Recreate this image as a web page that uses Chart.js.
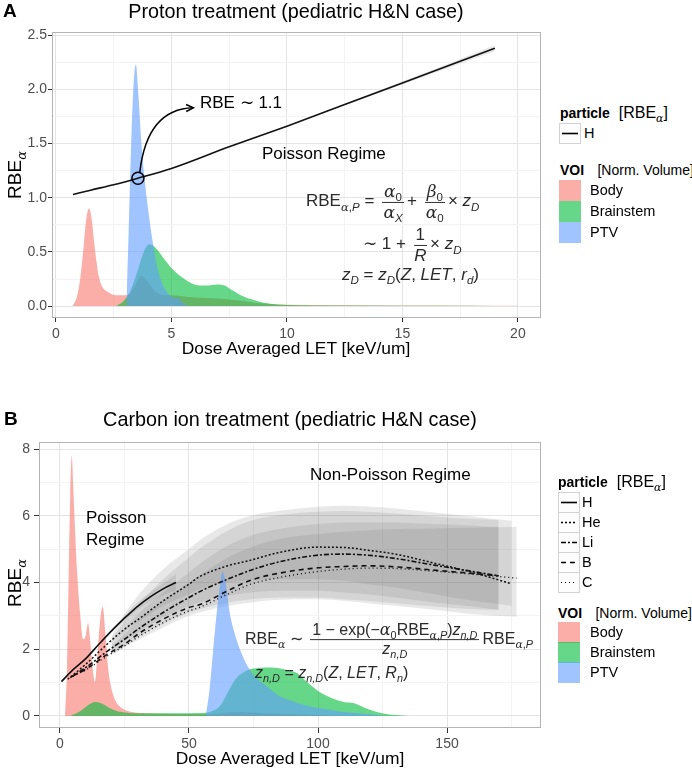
<!DOCTYPE html>
<html>
<head>
<meta charset="utf-8">
<script src="https://cdn.jsdelivr.net/npm/chart.js@4.4.1/dist/chart.umd.min.js"></script>
<style>
body { margin:0; width:692px; height:771px; position:relative; background:#fff; overflow:hidden;
       font-family:"Liberation Sans", Arial, sans-serif; color:#000; }
canvas { position:absolute; left:0; }
.t { position:absolute; white-space:nowrap; transform:translateY(-50%); }
.c { position:absolute; white-space:nowrap; transform:translate(-50%,-50%); }
.yt { position:absolute; white-space:nowrap; transform:translate(-50%,-50%) rotate(-90deg); font-size:19px; }
.g { font-family:"DejaVu Serif", serif; font-style:italic; }
sub { font-size:68%; vertical-align:-0.35em; line-height:0; }
.fr { display:inline-flex; flex-direction:column; align-items:center; vertical-align:middle; margin:0 3px; line-height:1.15; }
.fr > span:first-child { border-bottom:1px solid #333; padding:0 2px; }
.eq { color:#2a2a2a; font-size:16px; }
.eqA { color:#2a2a2a; font-size:17px; }
.key { position:absolute; width:22px; height:21px; box-sizing:border-box; border:1px solid #d2d2d2; background:#fdfdfd; }
.sw { position:absolute; width:22px; height:21px; }
.lab { position:absolute; white-space:nowrap; transform:translateY(-50%); font-size:14.5px; }
</style>
</head>
<body>
<canvas id="chartA" width="545" height="362" style="top:0"></canvas>
<canvas id="chartB" width="545" height="390" style="top:380px"></canvas>

<!-- panel A text -->
<div class="t" style="left:3px;top:11px;font-weight:bold;font-size:19px">A</div>
<div class="c" style="left:296px;top:11px;font-size:19.8px">Proton treatment (pediatric H&amp;N case)</div>
<div class="yt" style="left:15px;top:175px">RBE<sub class="g">α</sub></div>
<div class="c" style="left:296px;top:348px;font-size:17.4px">Dose Averaged LET [keV/um]</div>
<div class="t" style="left:200px;top:102px;font-size:17px">RBE ∼ 1.1</div>
<div class="t" style="left:262px;top:154px;font-size:17px">Poisson Regime</div>
<div class="t eqA" style="left:306px;top:202px">RBE<sub><span class="g">α</span>,<i>P</i></sub> =
  <span class="fr"><span><span class="g">α</span><sub>0</sub></span><span><span class="g">α</span><sub><i>X</i></sub></span></span>+
  <span class="fr"><span><span class="g">β</span><sub>0</sub></span><span><span class="g">α</span><sub>0</sub></span></span>× <i>z</i><sub><i>D</i></sub></div>
<div class="t eqA" style="left:363px;top:245px">∼ 1 +
  <span class="fr"><span>1</span><span><i>R</i></span></span>× <i>z</i><sub><i>D</i></sub></div>
<div class="t eqA" style="left:342px;top:275px"><i>z</i><sub><i>D</i></sub> = <i>z</i><sub><i>D</i></sub>(<i>Z</i>, <i>LET</i>, <i>r</i><sub><i>d</i></sub>)</div>

<!-- panel A legend -->
<div class="t" style="left:560px;top:113px"><b style="font-size:14px">particle</b>&nbsp; <span style="font-size:16px">[RBE<sub class="g">α</sub>]</span></div>
<div class="key" style="left:559px;top:123px"><svg width="20" height="19"><line x1="2" y1="9.5" x2="18" y2="9.5" stroke="#000" stroke-width="1.6"/></svg></div>
<div class="lab" style="left:584px;top:133px">H</div>
<div class="t" style="left:560px;top:170px"><b style="font-size:14px">VOI</b>&nbsp;&nbsp; <span style="font-size:14px">[Norm. Volume]</span></div>
<div class="sw" style="left:559px;top:180px;background:rgba(248,118,109,0.6)"></div>
<div class="sw" style="left:559px;top:201px;background:rgba(0,186,56,0.6)"></div>
<div class="sw" style="left:559px;top:222px;background:rgba(97,156,255,0.6)"></div>
<div class="lab" style="left:590px;top:190px">Body</div>
<div class="lab" style="left:590px;top:211px">Brainstem</div>
<div class="lab" style="left:590px;top:232px">PTV</div>

<!-- panel B text -->
<div class="t" style="left:4px;top:419px;font-weight:bold;font-size:19px">B</div>
<div class="c" style="left:290px;top:419px;font-size:19.8px">Carbon ion treatment (pediatric H&amp;N case)</div>
<div class="yt" style="left:15px;top:583px">RBE<sub class="g">α</sub></div>
<div class="c" style="left:290px;top:758px;font-size:17.4px">Dose Averaged LET [keV/um]</div>
<div class="t" style="left:86px;top:518px;font-size:17px">Poisson</div>
<div class="t" style="left:86px;top:540px;font-size:17px">Regime</div>
<div class="t" style="left:310px;top:475px;font-size:17px">Non-Poisson Regime</div>
<div class="t eq" style="left:245px;top:640px">RBE<sub class="g">α</sub> ∼
  <span class="fr"><span>1 − exp(−<span class="g">α</span><sub>0</sub>RBE<sub><span class="g">α</span>,<i>P</i></sub>)<i>z</i><sub><i>n,D</i></sub></span><span><i>z</i><sub><i>n,D</i></sub></span></span>RBE<sub><span class="g">α</span>,<i>P</i></sub></div>
<div class="t eq" style="left:255px;top:673px"><i>z</i><sub><i>n,D</i></sub> = <i>z</i><sub><i>n,D</i></sub>(<i>Z</i>, <i>LET</i>, <i>R</i><sub><i>n</i></sub>)</div>

<!-- panel B legend -->
<div class="t" style="left:558px;top:482px"><b style="font-size:14px">particle</b>&nbsp; <span style="font-size:16px">[RBE<sub class="g">α</sub>]</span></div>
<div class="key" style="left:558px;top:492px"><svg width="20" height="19"><line x1="2" y1="9.5" x2="18" y2="9.5" stroke="#000" stroke-width="1.6"/></svg></div>
<div class="key" style="left:558px;top:512px"><svg width="20" height="19"><line x1="2" y1="9.5" x2="18" y2="9.5" stroke="#000" stroke-width="1.4" stroke-dasharray="2 2"/></svg></div>
<div class="key" style="left:558px;top:532px"><svg width="20" height="19"><line x1="2" y1="9.5" x2="18" y2="9.5" stroke="#000" stroke-width="1.6" stroke-dasharray="5 2 2 2"/></svg></div>
<div class="key" style="left:558px;top:552px"><svg width="20" height="19"><line x1="2" y1="9.5" x2="18" y2="9.5" stroke="#000" stroke-width="1.6" stroke-dasharray="5 4"/></svg></div>
<div class="key" style="left:558px;top:572px"><svg width="20" height="19"><line x1="2" y1="9.5" x2="18" y2="9.5" stroke="#000" stroke-width="1.2" stroke-dasharray="1 3"/></svg></div>
<div class="lab" style="left:582px;top:502px">H</div>
<div class="lab" style="left:582px;top:522px">He</div>
<div class="lab" style="left:582px;top:542px">Li</div>
<div class="lab" style="left:582px;top:562px">B</div>
<div class="lab" style="left:582px;top:582px">C</div>
<div class="t" style="left:558px;top:613px"><b style="font-size:14px">VOI</b>&nbsp;&nbsp; <span style="font-size:14px">[Norm. Volume]</span></div>
<div class="sw" style="left:558px;top:622px;background:rgba(248,118,109,0.6)"></div>
<div class="sw" style="left:558px;top:642px;background:rgba(0,186,56,0.6)"></div>
<div class="sw" style="left:558px;top:662px;background:rgba(97,156,255,0.6)"></div>
<div class="lab" style="left:590px;top:632px">Body</div>
<div class="lab" style="left:590px;top:652px">Brainstem</div>
<div class="lab" style="left:590px;top:672px">PTV</div>

<script>
//panel A data (proton)
const letA_H = [0.74, 1.5, 2.5, 3.55, 5, 7.5, 10, 12.5, 15, 17.5, 19.0];
const rbeA_H = [1.03, 1.07, 1.12, 1.18, 1.27, 1.47, 1.66, 1.86, 2.06, 2.26, 2.38];
const letA_band = [12.5, 15, 17.5, 19.0];
const rbeA_bandLo = [1.852, 2.045, 2.24, 2.35];
const rbeA_bandHi = [1.868, 2.075, 2.28, 2.41];

const letA_body = [0.72, 0.9, 1.05, 1.2, 1.3, 1.43, 1.55, 1.65, 1.75, 1.85, 2.0, 2.25, 2.6, 3.0, 3.3, 3.5, 3.7, 3.9, 4.2, 4.5, 5.0, 6.0, 7.0, 8.0, 8.6, 9.3, 10, 12, 15, 18, 20];
const volA_body = [0, 0.08, 0.25, 0.55, 0.78, 0.9, 0.8, 0.6, 0.42, 0.28, 0.18, 0.13, 0.1, 0.1, 0.14, 0.22, 0.28, 0.24, 0.16, 0.11, 0.1, 0.08, 0.07, 0.05, 0.03, 0.02, 0.012, 0.008, 0.005, 0.004, 0.003];
const letA_brain = [2.6, 2.9, 3.2, 3.5, 3.8, 4.05, 4.3, 4.7, 5.1, 5.5, 6.0, 6.5, 7.0, 7.3, 7.6, 8.0, 8.5, 9.0, 9.6, 10.5, 12, 15, 18, 20];
const volA_brain = [0, 0.04, 0.13, 0.3, 0.5, 0.57, 0.54, 0.43, 0.33, 0.26, 0.2, 0.19, 0.2, 0.19, 0.15, 0.1, 0.06, 0.03, 0.015, 0.008, 0.005, 0.004, 0.003, 0];
const letA_ptv = [3.05, 3.15, 3.25, 3.35, 3.46, 3.57, 3.7, 3.85, 4.0, 4.2, 4.4, 4.6, 4.8, 5.0, 5.2, 5.3, 5.4, 5.55, 5.75];
const volA_ptv = [0, 0.7, 1.45, 2.0, 2.23, 1.95, 1.5, 1.15, 0.88, 0.58, 0.35, 0.21, 0.13, 0.09, 0.07, 0.08, 0.05, 0.02, 0];

//panel A annotation anchors (data units)
const noteA = { circleLet: 3.55, circleRbe: 1.18, fromLet: 3.63, fromRbe: 1.235,
                bendLet: 3.95, bendRbe: 1.82, toLet: 5.95, toRbe: 1.83 };

//panel B data (carbon)
const letB_H = [0.6, 5, 10, 15, 20, 25, 30, 35, 40, 45];
const rbeB_H = [1.03, 1.38, 1.72, 2.14, 2.55, 2.93, 3.28, 3.57, 3.81, 4.0];
const letB_Hband = [20, 30, 40, 45];
const rbeB_HbandLo = [2.5, 3.18, 3.62, 3.75];
const rbeB_HbandHi = [2.6, 3.4, 3.98, 4.25];

const letB_He = [3, 10, 18, 25, 31, 40, 50, 54, 65, 74, 85, 100, 110, 119, 130, 145, 160, 175];
const rbeB_He = [1.1, 1.55, 2.13, 2.6, 2.93, 3.45, 3.95, 4.17, 4.5, 4.67, 4.9, 5.06, 5.05, 4.97, 4.85, 4.58, 4.3, 3.96];
const letB_Li = [4, 10, 18, 25, 31, 40, 50, 54, 65, 74, 85, 100, 110, 119, 130, 145, 160, 170];
const rbeB_Li = [1.15, 1.45, 1.92, 2.3, 2.64, 3.1, 3.55, 3.72, 4.1, 4.37, 4.62, 4.82, 4.85, 4.82, 4.72, 4.52, 4.33, 4.2];
const letB_B = [5, 10, 18, 25, 31, 40, 50, 54, 65, 74, 85, 100, 110, 119, 130, 145, 160, 170];
const rbeB_B = [1.2, 1.4, 1.83, 2.15, 2.49, 2.9, 3.25, 3.33, 3.75, 4.07, 4.28, 4.44, 4.48, 4.5, 4.47, 4.37, 4.27, 4.2];
const letB_C = [5, 10, 18, 25, 31, 40, 50, 54, 65, 74, 85, 100, 110, 119, 130, 145, 160, 177];
const rbeB_C = [1.2, 1.38, 1.78, 2.1, 2.4, 2.8, 3.15, 3.25, 3.65, 3.95, 4.15, 4.33, 4.4, 4.43, 4.42, 4.34, 4.25, 4.13];

//uncertainty ribbons
const letB_band = [20, 25, 31, 40, 50, 54, 65, 74, 85, 100, 110, 119, 130, 145, 160, 170];
const letB_bandHe = [20, 25, 31, 40, 50, 54, 65, 74, 85, 100, 110, 119, 130, 145, 160, 175];
const letB_bandC = [20, 25, 31, 40, 50, 54, 65, 74, 85, 100, 110, 119, 130, 145, 160, 177];
const rbeB_HeHi = [2.4, 3.05, 3.68, 4.4, 5.0, 5.25, 5.75, 6.0, 6.15, 6.27, 6.3, 6.28, 6.22, 6.1, 5.98, 5.85];
const rbeB_HeLo = [2.2, 2.55, 2.85, 3.3, 3.65, 3.8, 4.0, 4.05, 4.1, 4.1, 4.05, 3.95, 3.85, 3.65, 3.45, 3.3];
const rbeB_LiHi = [2.3, 2.85, 3.4, 4.1, 4.75, 5.0, 5.55, 5.85, 6.02, 6.12, 6.14, 6.12, 6.07, 5.98, 5.9, 5.87];
const rbeB_LiLo = [1.98, 2.25, 2.55, 2.95, 3.3, 3.4, 3.6, 3.7, 3.75, 3.75, 3.7, 3.65, 3.55, 3.4, 3.28, 3.18];
const rbeB_BHi = [2.15, 2.6, 3.1, 3.7, 4.3, 4.55, 5.1, 5.4, 5.6, 5.75, 5.8, 5.8, 5.8, 5.75, 5.7, 5.66];
const rbeB_BLo = [1.88, 2.1, 2.4, 2.75, 3.1, 3.2, 3.4, 3.5, 3.55, 3.55, 3.5, 3.45, 3.38, 3.28, 3.2, 3.18];
const rbeB_CHi = [2.05, 2.45, 2.9, 3.45, 4.0, 4.2, 4.75, 5.05, 5.3, 5.45, 5.52, 5.56, 5.6, 5.62, 5.64, 5.66];
const rbeB_CLo = [1.83, 2.05, 2.3, 2.65, 3.0, 3.1, 3.3, 3.4, 3.48, 3.5, 3.45, 3.38, 3.3, 3.18, 3.05, 2.97];

const letB_body = [2.0, 2.8, 3.4, 4.0, 4.6, 5.2, 5.8, 6.6, 7.8, 9.0, 9.8, 10.9, 11.8, 12.6, 13.6, 14.5, 15.5, 16.6, 17.6, 18.6, 19.6, 21, 23, 26, 30, 40, 50, 57, 60, 64, 70, 80, 90, 100, 110];
const volB_body = [0, 1.5, 4.2, 6.6, 7.8, 6.8, 5.7, 4.4, 3.1, 2.3, 2.35, 2.78, 2.2, 1.5, 1.02, 1.8, 2.8, 3.27, 2.5, 1.5, 0.95, 0.55, 0.3, 0.16, 0.1, 0.07, 0.06, 0.05, 0.06, 0.1, 0.12, 0.08, 0.05, 0.03, 0];
const letB_brain = [4, 8, 11, 13.6, 16, 19, 22, 26, 35, 45, 55, 58, 62, 65, 68, 72, 76, 82, 88, 92, 96, 100, 105, 110, 114, 118, 124, 130, 135];
const volB_brain = [0, 0.15, 0.33, 0.42, 0.38, 0.25, 0.15, 0.1, 0.08, 0.08, 0.09, 0.12, 0.3, 0.7, 1.1, 1.35, 1.43, 1.45, 1.38, 1.28, 1.0, 0.75, 0.55, 0.42, 0.38, 0.25, 0.1, 0.03, 0];
const letB_ptv = [56.5, 58, 60, 62, 63, 64, 66, 68, 70, 73, 76, 80, 85, 90, 95, 100, 105, 110, 115, 120, 125];
const volB_ptv = [0, 0.8, 2.5, 3.9, 4.32, 4.1, 3.0, 2.4, 1.95, 1.45, 1.15, 0.9, 0.6, 0.45, 0.32, 0.24, 0.18, 0.12, 0.09, 0.05, 0];

//colours
const colBody = 'rgba(248,118,109,0.6)';
const colBrain = 'rgba(0,186,56,0.6)';
const colPtv = 'rgba(97,156,255,0.6)';
const colBand = 'rgba(110,110,110,0.16)';
const clear = 'rgba(0,0,0,0)';

function pts(xs, ys) {
    return xs.map((x, i) => ({x: x, y: ys[i]}));
}
function lineSet(xs, ys, dash, width) {
    return {data: pts(xs, ys), borderColor: '#111', borderWidth: width || 1.6, borderDash: dash || [],
            pointRadius: 0, fill: false, cubicInterpolationMode: 'monotone'};
}
function areaSet(xs, ys, color) {
    return {data: pts(xs, ys), backgroundColor: color, borderColor: clear, borderWidth: 0,
            pointRadius: 0, fill: 'origin', cubicInterpolationMode: 'monotone'};
}
//pushes upper + lower ribbon pair, upper fills down to lower
function addBand(sets, xs, lo, hi) {
    const lowIdx = sets.length + 1;
    sets.push({data: pts(xs, hi), backgroundColor: colBand, borderColor: clear, borderWidth: 0,
               pointRadius: 0, fill: lowIdx, cubicInterpolationMode: 'monotone'});
    sets.push({data: pts(xs, lo), borderColor: clear, borderWidth: 0, pointRadius: 0,
               fill: false, cubicInterpolationMode: 'monotone'});
}

//grey panel border like ggplot theme_bw
const panelBorder = {
    id: 'panelBorder',
    afterDraw(chart) {
        const a = chart.chartArea, ctx = chart.ctx;
        ctx.save();
        ctx.strokeStyle = '#b5b5b5';
        ctx.lineWidth = 1;
        ctx.strokeRect(a.left + 0.5, a.top + 0.5, a.right - a.left - 1, a.bottom - a.top - 1);
        ctx.restore();
    }
};

//circle + curved arrow on the proton curve
const arrowNote = {
    id: 'arrowNote',
    afterDatasetsDraw(chart) {
        const x = chart.scales.x, y = chart.scales.y, ctx = chart.ctx;
        const cx = x.getPixelForValue(noteA.circleLet), cy = y.getPixelForValue(noteA.circleRbe);
        const fx = x.getPixelForValue(noteA.fromLet), fy = y.getPixelForValue(noteA.fromRbe);
        const bx = x.getPixelForValue(noteA.bendLet), by = y.getPixelForValue(noteA.bendRbe);
        const tx = x.getPixelForValue(noteA.toLet), ty = y.getPixelForValue(noteA.toRbe);
        ctx.save();
        ctx.strokeStyle = '#000';
        ctx.lineWidth = 1.5;
        ctx.beginPath();
        ctx.arc(cx, cy, 6, 0, Math.PI * 2);
        ctx.stroke();
        ctx.beginPath();
        ctx.moveTo(fx, fy);
        ctx.quadraticCurveTo(bx, by, tx, ty);
        ctx.stroke();
        const ang = Math.atan2(ty - by, tx - bx);
        ctx.beginPath();
        ctx.moveTo(tx - 8 * Math.cos(ang - 0.45), ty - 8 * Math.sin(ang - 0.45));
        ctx.lineTo(tx, ty);
        ctx.lineTo(tx - 8 * Math.cos(ang + 0.45), ty - 8 * Math.sin(ang + 0.45));
        ctx.stroke();
        ctx.restore();
    }
};

function axes(opt) {
    const onStep = (v, m) => Math.abs(v / m - Math.round(v / m)) < 1e-6;
    const tickFont = {family: 'Liberation Sans', size: 14};
    return {
        x: {
            type: 'linear', min: opt.xMin, max: opt.xMax,
            afterFit: s => { s.height = opt.xHeight; },
            grid: {
                color: c => onStep(c.tick.value, opt.xMajor) ? '#e4e4e4' : '#f3f3f3',
                tickColor: c => onStep(c.tick.value, opt.xMajor) ? '#333' : clear,
                tickLength: opt.tickLen, lineWidth: 1
            },
            border: {display: false},
            ticks: {stepSize: opt.xStep, includeBounds: false, color: '#4d4d4d', font: tickFont,
                    padding: opt.xPad, maxRotation: 0, autoSkip: false,
                    callback: v => onStep(v, opt.xMajor) ? String(Math.round(v)) : ''}
        },
        y: {
            type: 'linear', min: opt.yMin, max: opt.yMax,
            afterFit: s => { s.width = opt.yWidth; },
            grid: {
                color: c => onStep(c.tick.value, opt.yMajor) ? '#e4e4e4' : '#f3f3f3',
                tickColor: c => onStep(c.tick.value, opt.yMajor) ? '#333' : clear,
                tickLength: opt.tickLen, lineWidth: 1
            },
            border: {display: false},
            ticks: {stepSize: opt.yStep, includeBounds: false, color: '#4d4d4d', font: tickFont,
                    padding: opt.yPad, autoSkip: false,
                    callback: v => onStep(v, opt.yMajor) ? v.toFixed(opt.dec) : ''}
        }
    };
}

//panel A chart
const setsA = [];
setsA.push(lineSet(letA_H, rbeA_H, [], 1.6));
setsA.push(areaSet(letA_ptv, volA_ptv, colPtv));
setsA.push(areaSet(letA_brain, volA_brain, colBrain));
setsA.push(areaSet(letA_body, volA_body, colBody));
addBand(setsA, letA_band, rbeA_bandLo, rbeA_bandHi);

new Chart(document.getElementById('chartA'), {
    type: 'line',
    data: {datasets: setsA},
    options: {
        responsive: false, animation: false,
        layout: {padding: {top: 32, right: 4, left: 0, bottom: 0}},
        plugins: {legend: {display: false}, tooltip: {enabled: false}},
        scales: axes({xMin: -0.17, xMax: 21.0, yMin: -0.11, yMax: 2.53, xStep: 2.5, xMajor: 5,
                      yStep: 0.25, yMajor: 0.5, dec: 1, xHeight: 44, yWidth: 52, tickLen: 4, xPad: 4, yPad: 1})
    },
    plugins: [panelBorder, arrowNote]
});

//panel B chart
const setsB = [];
setsB.push(lineSet(letB_H, rbeB_H, [], 1.6));
setsB.push(lineSet(letB_He, rbeB_He, [2, 2], 1.5));
setsB.push(lineSet(letB_Li, rbeB_Li, [5, 2, 2, 2], 1.6));
setsB.push(lineSet(letB_B, rbeB_B, [5, 4], 1.6));
setsB.push(lineSet(letB_C, rbeB_C, [1, 3], 1.4));
setsB.push(areaSet(letB_ptv, volB_ptv, colPtv));
setsB.push(areaSet(letB_brain, volB_brain, colBrain));
setsB.push(areaSet(letB_body, volB_body, colBody));
addBand(setsB, letB_Hband, rbeB_HbandLo, rbeB_HbandHi);
addBand(setsB, letB_bandHe, rbeB_HeLo, rbeB_HeHi);
addBand(setsB, letB_band, rbeB_LiLo, rbeB_LiHi);
addBand(setsB, letB_band, rbeB_BLo, rbeB_BHi);
addBand(setsB, letB_bandC, rbeB_CLo, rbeB_CHi);

new Chart(document.getElementById('chartB'), {
    type: 'line',
    data: {datasets: setsB},
    options: {
        responsive: false, animation: false,
        layout: {padding: {top: 62, right: 4, left: 0, bottom: 0}},
        plugins: {legend: {display: false}, tooltip: {enabled: false}},
        scales: axes({xMin: -8.1, xMax: 186.4, yMin: -0.36, yMax: 8.21, xStep: 25, xMajor: 50,
                      yStep: 1, yMajor: 2, dec: 0, xHeight: 42, yWidth: 39, tickLen: 5, xPad: 3, yPad: 4})
    },
    plugins: [panelBorder]
});
</script>
</body>
</html>
